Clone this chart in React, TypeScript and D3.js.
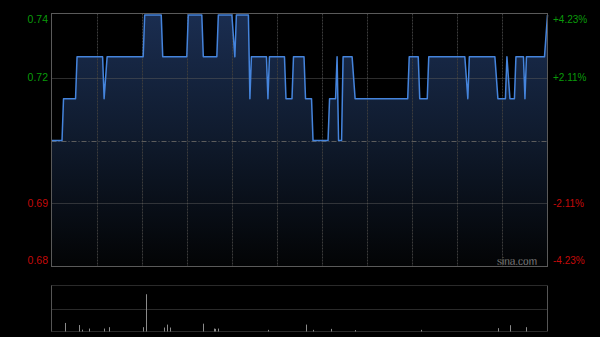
import React from "react";
import * as d3 from "d3";

// price path vertices: minute index since open (0..330) and price
const priceMinutes = [0, 7, 8, 16, 17, 34, 35, 37, 61, 62, 73, 74, 90, 91, 100, 101, 110, 111, 120, 122, 123, 131, 132, 133, 143, 144, 145, 155, 156, 160, 161, 168, 169, 173, 174, 184, 185, 189, 190, 191, 193, 194, 200, 202, 237, 238, 244, 245, 250, 251, 275, 277, 278, 295, 297, 302, 303, 305, 308, 309, 314, 315, 316, 328, 330];
const priceValues = [0.71, 0.71, 0.72, 0.72, 0.73, 0.73, 0.72, 0.73, 0.73, 0.74, 0.74, 0.73, 0.73, 0.74, 0.74, 0.73, 0.73, 0.74, 0.74, 0.73, 0.74, 0.74, 0.72, 0.73, 0.73, 0.72, 0.73, 0.73, 0.72, 0.72, 0.73, 0.73, 0.72, 0.72, 0.71, 0.71, 0.72, 0.72, 0.73, 0.71, 0.71, 0.73, 0.73, 0.72, 0.72, 0.73, 0.73, 0.72, 0.72, 0.73, 0.73, 0.72, 0.73, 0.73, 0.72, 0.72, 0.73, 0.72, 0.72, 0.73, 0.73, 0.72, 0.73, 0.73, 0.74];

const volumeMinutes = [9, 18, 20, 25, 35, 38, 61, 63, 75, 77, 79, 101, 108, 109, 111, 144, 169, 174, 186, 202, 246, 297, 305, 316];
const volumeValues = [18.6, 14, 4, 6.4, 6.4, 9.4, 9.4, 81, 8.6, 15, 8.6, 17, 6.4, 5.7, 6.4, 3.6, 15, 3.6, 5.7, 3, 3.6, 7.3, 13.7, 9.4];

const prevClose = 0.71;
const leftLabels = ["0.74", "0.72", "0.69", "0.68"];
const rightLabels = ["+4.23%", "+2.11%", "-2.11%", "-4.23%"];
const labelPrices = [0.74, 0.725, 0.695, 0.68];

const W = 600, H = 337;
const L = 51.5, R = 547.5, T = 13.5, B = 266.5;
const VT = 285.5, VB = 331.5;

export default function App() {
  const x = d3.scaleLinear().domain([0, 330]).range([L, R]);
  const y = d3.scaleLinear().domain([0.68, 0.74]).range([266, 15]);
  const yv = d3.scaleLinear().domain([0, 100]).range([VB, VT]);

  const pts = priceMinutes.map((m, i) => [m, priceValues[i]] as [number, number]);
  const line = d3.line<[number, number]>().x(d => x(d[0])).y(d => y(d[1]));
  const area = d3.area<[number, number]>().x(d => x(d[0])).y0(B).y1(d => y(d[1]));

  const vgrid = d3.range(30, 330, 30);
  const font = "'Liberation Sans', Arial, sans-serif";
  const labelY = (i: number) => {
    if (i === 0) return 19;
    if (i === 3) return 260;
    return y(labelPrices[i]);
  };

  return (
    <svg width={W} height={H} style={{ position: "absolute", left: 0, top: 0, background: "#000" }}>
      <defs>
        <linearGradient id="fillg" gradientUnits="userSpaceOnUse" x1="0" y1="15" x2="0" y2="266">
          <stop offset="0" stopColor="#1a2d50" />
          <stop offset="0.5" stopColor="#0f1a2c" />
          <stop offset="1" stopColor="#030405" />
        </linearGradient>
      </defs>
      <rect x={0} y={0} width={W} height={H} fill="#000" />
      <path d={area(pts) || ""} fill="url(#fillg)" />
      {vgrid.map(m => (
        <line key={m} x1={Math.round(x(m)) + 0.5} x2={Math.round(x(m)) + 0.5} y1={T} y2={B} stroke="#3c3c3c" strokeDasharray="2,1" />
      ))}
      {[0.725, 0.695].map(p => (
        <line key={p} x1={L} x2={R} y1={Math.round(y(p)) + 0.5} y2={Math.round(y(p)) + 0.5} stroke="#5a5a5a" strokeDasharray="1,1" />
      ))}
      <line x1={L} x2={R} y1={Math.round(y(prevClose)) + 0.5} y2={Math.round(y(prevClose)) + 0.5} stroke="#5c5c5c" strokeDasharray="5,2,1,2" />
      <path d={line(pts) || ""} fill="none" stroke="#4584dc" strokeWidth={1.5} strokeLinejoin="round" />
      <rect x={L} y={T} width={R - L} height={B - T} fill="none" stroke="#5a5a5a" />
      {leftLabels.map((t, i) => (
        <text key={t} x={48} y={labelY(i)} dy="0.35em" textAnchor="end" fontFamily={font} fontSize={10.5}
          fill={i < 2 ? "#0a9a0a" : "#c40a0a"}>{t}</text>
      ))}
      {rightLabels.map((t, i) => (
        <text key={t} x={553} y={labelY(i)} dy="0.35em" textAnchor="start" fontFamily={font} fontSize={10}
          fill={i < 2 ? "#0a9a0a" : "#c40a0a"}>{t}</text>
      ))}
      <text x={537} y={261} dy="0.35em" textAnchor="end" fontFamily={font} fontSize={10} fill="#b4b4b4"
        stroke="#000" strokeWidth={0.3}>sina.com</text>

      {/* volume panel */}
      {[VT, 309.5, VB].map(v => (
        <line key={v} x1={L} x2={R} y1={v} y2={v} stroke="#555" strokeDasharray="1,1" />
      ))}
      <line x1={L} x2={L} y1={VT} y2={VB} stroke="#555" />
      <line x1={R} x2={R} y1={VT} y2={VB} stroke="#555" />
      {volumeMinutes.map((m, i) => (
        <line key={m} x1={Math.round(x(m)) + 0.5} x2={Math.round(x(m)) + 0.5} y1={VB} y2={yv(volumeValues[i])} stroke="#8a8a8a" />
      ))}
    </svg>
  );
}
